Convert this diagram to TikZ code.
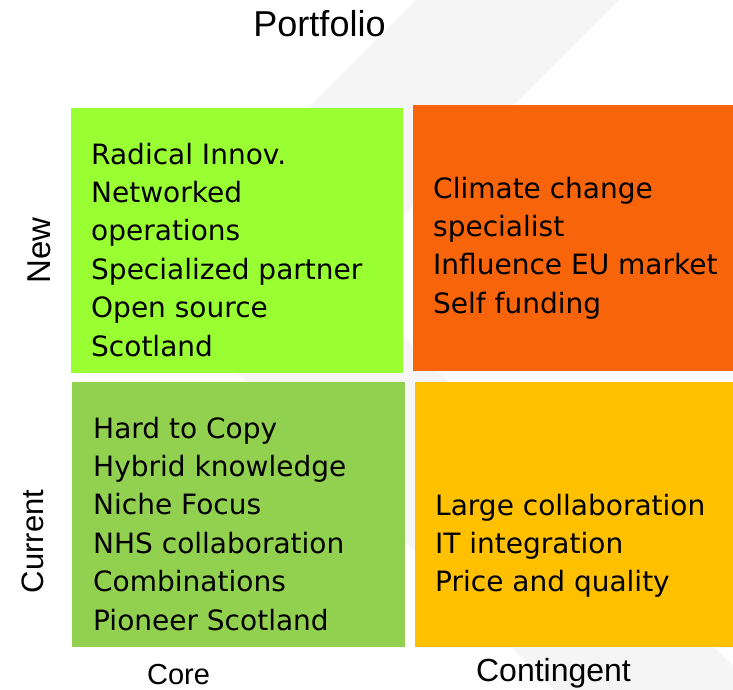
\documentclass[tikz,border=0pt]{standalone}
\usepackage{fontspec}
\setmainfont{Liberation Sans}
\newfontfamily\bodyfont{DejaVu Sans}
\definecolor{bandgray}{HTML}{F5F5F5}
\definecolor{tlgreen}{HTML}{99FF33}
\definecolor{trorange}{HTML}{F76409}
\definecolor{blgreen}{HTML}{92D050}
\definecolor{bryellow}{HTML}{FFC000}
\begin{document}
\begin{tikzpicture}[x=1pt,y=-1pt,
  quad/.style={draw=none, inner sep=0pt, anchor=north west},
  body/.style={anchor=base west, inner sep=0pt, align=left,
    font=\bodyfont\fontsize{28}{38.4}\selectfont},
  lab/.style={inner sep=0pt, anchor=base}]
\useasboundingbox (0,0) rectangle (733,690);
% faint background chevron
\fill[bandgray] (416,0) -- (619,0) -- (343,276) -- (733,666) -- (733,690)
  -- (554,690) -- (140,276) -- cycle;
% quadrants
\node[quad, fill=tlgreen, minimum width=332pt, minimum height=265pt] (tl) at (71,108) {};
\node[quad, fill=trorange, minimum width=320pt, minimum height=266pt] (tr) at (413,105) {};
\node[quad, fill=blgreen, minimum width=333pt, minimum height=265pt] (bl) at (72,382) {};
\node[quad, fill=bryellow, minimum width=318pt, minimum height=265pt] (br) at (415,382) {};
% texts (anchor = baseline of the last line)
\node[body] (tltext) at (91,356) {Radical Innov.\\Networked\\operations\\Specialized partner\\Open source\\Scotland};
\node[body] (trtext) at (433,313.2) {Climate change\\specialist\\Influence EU market\\Self funding};
\node[body] (bltext) at (93,630) {Hard to Copy\\Hybrid knowledge\\Niche Focus\\NHS collaboration\\Combinations\\Pioneer Scotland};
\node[body] (brtext) at (435,591.8) {Large collaboration\\IT integration\\Price and quality};
% axis labels
\node[lab, font=\fontsize{36}{40}\selectfont] (portfolio) at (319.5,37) {Portfolio};
\node[lab, rotate=90, font=\fontsize{33}{40}\selectfont] (new) at (50,250.5) {New};
\node[lab, rotate=90, font=\fontsize{31}{40}\selectfont] (current) at (43.5,541.5) {Current};
\node[lab, font=\fontsize{29}{36}\selectfont] (core) at (178.5,684) {Core};
\node[lab, font=\fontsize{32}{36}\selectfont] (contingent) at (553.5,681) {Contingent};
\end{tikzpicture}
\end{document}
